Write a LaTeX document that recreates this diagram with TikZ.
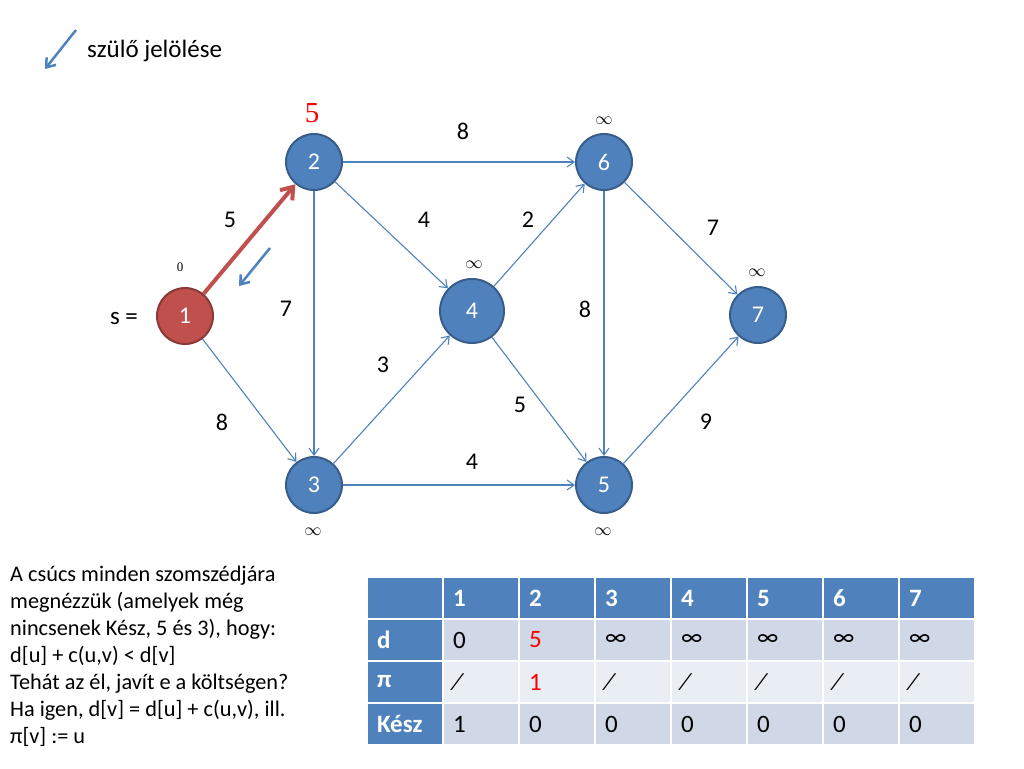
\documentclass[tikz,border=0pt]{standalone}
\usepackage{fontspec}
\setmainfont{Carlito}
\newfontfamily\seriffont{Liberation Serif}
\usetikzlibrary{arrows.meta}
\definecolor{bF}{HTML}{4F81BD}
\definecolor{bD}{HTML}{385D8A}
\definecolor{rF}{HTML}{C0504D}
\definecolor{rD}{HTML}{8C3836}
\definecolor{rowA}{HTML}{D0D8E8}
\definecolor{rowB}{HTML}{E9EDF4}
\definecolor{pureRed}{HTML}{FF0000}
\begin{document}
\begin{tikzpicture}[x=1pt,y=-1pt,
  vert/.style={circle, draw=bD, fill=bF, line width=2pt, minimum size=56pt, inner sep=0pt, text=white, font=\fontsize{24}{28}\selectfont},
  edge/.style={draw=bF, line width=1.1pt, -{Straight Barb[length=7pt,width=10pt]}},
  lbl/.style={font=\fontsize{24}{28}\selectfont, inner sep=0pt},
  inf/.style={font=\fontsize{18}{20}\selectfont, inner sep=0pt},
  body/.style={font=\fontsize{22.3}{27}\selectfont, inner sep=0pt, anchor=base west},
  cell/.style={rectangle, draw=white, line width=1.5pt, minimum width=76pt, minimum height=42pt, inner xsep=9pt, inner ysep=0pt, text width=56pt, align=left, font=\fontsize{25}{30}\selectfont},
  hcell/.style={cell, fill=bF, text=white, font=\fontsize{25}{30}\selectfont\bfseries},
  dA/.style={cell, fill=rowA},
  dB/.style={cell, fill=rowB}
]
\useasboundingbox (0,0) rectangle (1024,768);

% legend
\coordinate (lgS) at (76,30);
\coordinate (lgE) at (45,69);
\draw[draw=bF, line width=2.5pt, -{Straight Barb[length=8pt,width=12pt]}] (lgS) -- (lgE);
\node[font=\fontsize{25}{28}\selectfont, inner sep=0pt, anchor=base west] (legend) at (87,58) {szülő jelölése};

% vertices
\node[vert, draw=rD, fill=rF] (n1) at (185,316) {1};
\node[vert] (n2) at (314,162) {2};
\node[vert] (n6) at (604,162) {6};
\node[vert, minimum size=64pt] (n4) at (472,311) {4};
\node[vert] (n7) at (758,315) {7};
\node[vert] (n3) at (314,485) {3};
\node[vert] (n5) at (604,485) {5};

% edges
\draw[draw=rF, line width=4pt, -{Straight Barb[length=11pt,width=16pt]}] (n1) -- (n2);
\draw[edge] (n2) -- (n6);
\draw[edge] (n2) -- (n4);
\draw[edge] (n2) -- (n3);
\draw[edge] (n1) -- (n3);
\draw[edge] (n3) -- (n4);
\draw[edge] (n3) -- (n5);
\draw[edge] (n4) -- (n6);
\draw[edge] (n4) -- (n5);
\draw[edge] (n6) -- (n5);
\draw[edge] (n6) -- (n7);
\draw[edge] (n5) -- (n7);

% parent marker
\coordinate (pmS) at (270,248);
\coordinate (pmE) at (239,286);
\draw[draw=bF, line width=2.5pt, -{Straight Barb[length=8pt,width=12pt]}] (pmS) -- (pmE);

% edge labels
\node[lbl] (w26) at (463,131) {8};
\node[lbl] (w12) at (230,220) {5};
\node[lbl] (w24) at (424,220) {4};
\node[lbl] (w46) at (528,220) {2};
\node[lbl] (w67) at (713,228) {7};
\node[lbl] (w23) at (286,309) {7};
\node[lbl] (w65) at (585,309) {8};
\node[lbl] (w34) at (383,365) {3};
\node[lbl] (w45) at (520,405) {5};
\node[lbl] (w13) at (222,422) {8};
\node[lbl] (w57) at (706,422) {9};
\node[lbl] (w35) at (472,462) {4};

% distance labels
\node[inner sep=0pt, text=pureRed, font=\seriffont\fontsize{29}{30}\selectfont] (d2) at (312,113) {5};
\node[inner sep=0pt, font=\seriffont\fontsize{13}{15}\selectfont] (d1) at (180,267) {0};
\node[inf] (d6) at (604,121) {$\infty$};
\node[inf] (d7) at (757,273) {$\infty$};
\node[inf] (d4) at (474,265) {$\infty$};
\node[inf] (d3) at (313,532) {$\infty$};
\node[inf] (d5) at (603,532) {$\infty$};
\node[font=\fontsize{25}{28}\selectfont, inner sep=0pt] (s) at (124,319) {s =};

% text block
\node[body] (t1) at (10,581) {A csúcs minden szomszédjára};
\node[body] (t2) at (10,608) {megnézzük (amelyek még};
\node[body] (t3) at (10,635) {nincsenek Kész, 5 és 3), hogy:};
\node[body] (t4) at (10,662) {d[u] + c(u,v) < d[v]};
\node[body] (t5) at (10,689) {Tehát az él, javít e a költségen?};
\node[body] (t6) at (10,716) {Ha igen, d[v] = d[u] + c(u,v), ill.};
\node[body] (t7) at (10,743) {π[v] := u};

% table
\node[hcell] (h0) at (405,598) {\strut};
\node[hcell] (h1) at (481,598) {1};
\node[hcell] (h2) at (557,598) {2};
\node[hcell] (h3) at (633,598) {3};
\node[hcell] (h4) at (709,598) {4};
\node[hcell] (h5) at (785,598) {5};
\node[hcell] (h6) at (861,598) {6};
\node[hcell] (h7) at (937,598) {7};

\node[hcell] (r1c0) at (405,640) {d};
\node[dA] (r1c1) at (481,640) {0};
\node[dA, text=pureRed] (r1c2) at (557,640) {5};
\node[dA] (r1c3) at (633,640) {∞};
\node[dA] (r1c4) at (709,640) {∞};
\node[dA] (r1c5) at (785,640) {∞};
\node[dA] (r1c6) at (861,640) {∞};
\node[dA] (r1c7) at (937,640) {∞};

\node[hcell] (r2c0) at (405,682) {π};
\node[dB] (r2c1) at (481,682) {∕};
\node[dB, text=pureRed] (r2c2) at (557,682) {1};
\node[dB] (r2c3) at (633,682) {∕};
\node[dB] (r2c4) at (709,682) {∕};
\node[dB] (r2c5) at (785,682) {∕};
\node[dB] (r2c6) at (861,682) {∕};
\node[dB] (r2c7) at (937,682) {∕};

\node[hcell] (r3c0) at (405,724) {Kész};
\node[dA] (r3c1) at (481,724) {1};
\node[dA] (r3c2) at (557,724) {0};
\node[dA] (r3c3) at (633,724) {0};
\node[dA] (r3c4) at (709,724) {0};
\node[dA] (r3c5) at (785,724) {0};
\node[dA] (r3c6) at (861,724) {0};
\node[dA] (r3c7) at (937,724) {0};
\end{tikzpicture}
\end{document}
